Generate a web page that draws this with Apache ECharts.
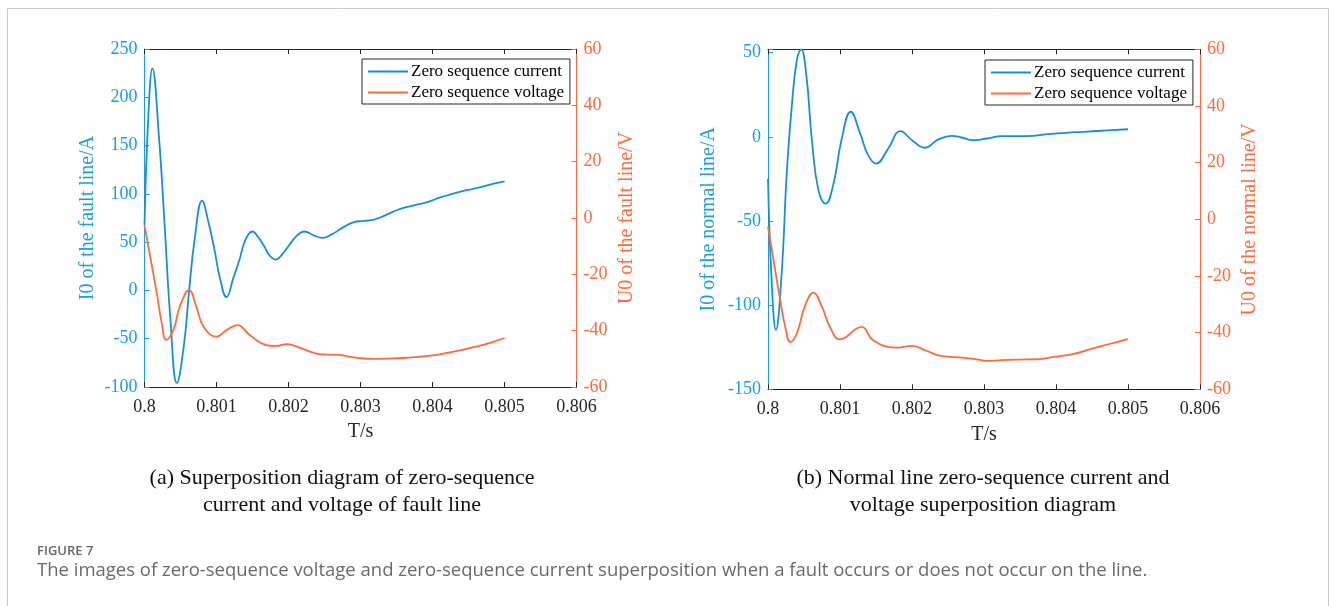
<!DOCTYPE html>
<html>
<head>
<meta charset="utf-8">
<script src="https://cdn.jsdelivr.net/npm/echarts@6/dist/echarts.min.js"></script>
<style>
html,body{margin:0;padding:0;background:#fff;}
#c{width:1330px;height:606px;}
</style>
</head>
<body>
<div id="c"></div>
<script>
// ---- (a) fault line ----
const tFaultI = [0.8, 0.80005, 0.80011, 0.8002, 0.80028, 0.80036, 0.80045, 0.80055, 0.80062, 0.8007, 0.8008, 0.80089, 0.80097, 0.80105, 0.80114, 0.80123, 0.80132, 0.8014, 0.8015, 0.80158, 0.80166, 0.80174, 0.80182, 0.80192, 0.80202, 0.80212, 0.80222, 0.80235, 0.80247, 0.8026, 0.80275, 0.8029, 0.80305, 0.8032, 0.80335, 0.8035, 0.80365, 0.8038, 0.80395, 0.8041, 0.80425, 0.8044, 0.80455, 0.8047, 0.80485, 0.805];
const iFault = [68, 175, 230, 160, 67, -30, -96, -55, 0, 55, 93, 70, 43, 12, -7, 12, 32, 52, 61, 55, 46, 36, 32, 38, 48, 57, 61, 57, 54.5, 58, 65, 70.5, 72, 73.5, 78, 83, 86.5, 89, 92, 96, 99.5, 102.5, 105, 107.5, 110.5, 113];
const tFaultU = [0.8, 0.80007, 0.80017, 0.80024, 0.8003, 0.8004, 0.80049, 0.80062, 0.80072, 0.80082, 0.801, 0.80114, 0.80129, 0.80146, 0.80169, 0.80183, 0.80197, 0.8021, 0.80225, 0.8024, 0.80255, 0.8027, 0.80285, 0.803, 0.8032, 0.8034, 0.8036, 0.8038, 0.804, 0.8042, 0.8044, 0.8046, 0.8048, 0.805];
const uFault = [-2.6, -12.5, -26.7, -37.4, -43.3, -39.8, -31.5, -25.6, -31.5, -38.6, -42.1, -39.8, -38, -41.5, -45.1, -45.4, -44.8, -45.5, -47, -48.2, -48.5, -48.6, -49.2, -49.8, -50, -49.9, -49.7, -49.3, -48.8, -47.9, -46.9, -45.7, -44.3, -42.6];

// ---- (b) normal line ----
const tNormI = [0.8, 0.80005, 0.80011, 0.80019, 0.80026, 0.80033, 0.8004, 0.80046, 0.80053, 0.80061, 0.8007, 0.8008, 0.80091, 0.80102, 0.80115, 0.80128, 0.80139, 0.8015, 0.80167, 0.80184, 0.802, 0.80218, 0.80235, 0.80255, 0.80269, 0.80284, 0.80304, 0.80324, 0.80349, 0.80369, 0.80389, 0.80414, 0.80438, 0.80463, 0.805];
const iNorm = [-25, -85, -114.7, -81, -21.8, 17.9, 45.6, 52, 37.7, -2, -31.7, -39.7, -27.8, -2, 14.9, 2, -10.9, -15.9, -7, 3.4, -2, -6.5, -2, 0.6, -0.4, -2, -1, 0.4, 0.4, 0.6, 1.6, 2.4, 3, 3.6, 4.5];
const tNormU = [0.8, 0.80007, 0.80017, 0.80024, 0.80031, 0.8004, 0.80051, 0.80063, 0.80075, 0.80086, 0.801, 0.8013, 0.80146, 0.80177, 0.802, 0.8022, 0.8024, 0.8027, 0.8029, 0.80304, 0.80324, 0.80349, 0.80374, 0.80399, 0.80423, 0.80448, 0.80473, 0.805];
const uNorm = [-2.7, -13.3, -28.6, -38, -43.3, -40.3, -30.9, -25.9, -30.9, -38, -42.4, -38, -42.7, -45.3, -44.7, -46.4, -48.2, -48.8, -49.4, -50, -49.7, -49.5, -49.4, -48.5, -47.6, -45.8, -44.1, -42.3];

const xTicks = [0.8, 0.801, 0.802, 0.803, 0.804, 0.805, 0.806];
const seriesNames = ['Zero sequence current', 'Zero sequence voltage'];
const yTitles = ['I0 of the fault line/A', 'U0 of the fault line/V', 'I0 of the normal line/A', 'U0 of the normal line/V'];

const BLUE_LINE = '#1591d2';
const BLUE_AX = '#17a0dd';
const ORANGE = '#ff6a3a';
const DARK = '#262626';
const SERIF = '"Liberation Serif", "Times New Roman", serif';

function zip(a, b) { return a.map((v, i) => [v, b[i]]); }

function xAxisPair(gi) {
  return [
    {
      type: 'value', gridIndex: gi, min: xTicks[0], max: xTicks[xTicks.length - 1], interval: 0.001, position: 'bottom',
      axisLine: { onZero: false, lineStyle: { color: DARK, width: 1 } },
      axisTick: { inside: true, length: 5, lineStyle: { color: DARK } },
      axisLabel: { color: DARK, fontSize: 18, fontFamily: SERIF, margin: 11,
        formatter: v => String(parseFloat(v.toFixed(4))) },
      splitLine: { show: false },
      name: 'T/s', nameLocation: 'middle', nameGap: 35,
      nameTextStyle: { color: DARK, fontSize: 20, fontFamily: SERIF }
    },
    {
      type: 'value', gridIndex: gi, min: xTicks[0], max: xTicks[xTicks.length - 1], interval: 0.001, position: 'top',
      axisLine: { onZero: false, lineStyle: { color: DARK, width: 1 } },
      axisTick: { inside: true, length: 5, lineStyle: { color: DARK } },
      axisLabel: { show: false }, splitLine: { show: false }
    }
  ];
}

function yAxis(gi, pos, min, max, interval, color, title, gap) {
  return {
    type: 'value', gridIndex: gi, position: pos, min: min, max: max, interval: interval,
    axisLine: { show: true, onZero: false, lineStyle: { color: color, width: 1 } },
    axisTick: { show: true, inside: true, length: 5, lineStyle: { color: color } },
    axisLabel: { color: color, fontSize: 18, fontFamily: SERIF, margin: 7,
      formatter: v => (Math.abs(v % interval) < 1e-9 ? String(v) : '') },
    splitLine: { show: false },
    name: title, nameLocation: 'middle', nameGap: gap, nameRotate: 90,
    nameTextStyle: { color: color, fontSize: 20, fontFamily: SERIF }
  };
}

function legend(left, top) {
  return {
    orient: 'vertical', left: left, top: top,
    data: seriesNames,
    itemWidth: 40, itemHeight: 2, itemGap: 4,
    padding: [4, 6, 3, 5],
    borderColor: DARK, borderWidth: 1, backgroundColor: '#fff',
    selectedMode: false,
    textStyle: { color: '#000', fontSize: 17, fontFamily: SERIF, padding: [0, 0, 0, -2] }
  };
}

function lineSeries(name, xi, yi, data, color) {
  return {
    type: 'line', name: name, xAxisIndex: xi, yAxisIndex: yi, data: data,
    symbol: 'none', smooth: 0.45, lineStyle: { color: color, width: 1.8 },
    itemStyle: { color: color }, animation: false, z: 3
  };
}

const chart = echarts.init(document.getElementById('c'), null, { renderer: 'canvas' });
chart.setOption({
  animation: false,
  backgroundColor: '#fff',
  grid: [
    { left: 144.5, top: 49, width: 432, height: 338 },
    { left: 768, top: 49.3, width: 432, height: 340 }
  ],
  xAxis: [].concat(xAxisPair(0), xAxisPair(1)),
  yAxis: [
    yAxis(0, 'left', -100, 250, 50, BLUE_AX, yTitles[0], 47),
    yAxis(0, 'right', -60, 60, 20, ORANGE, yTitles[1], 40),
    yAxis(1, 'left', -150, 52, 50, BLUE_AX, yTitles[2], 49),
    yAxis(1, 'right', -60, 60, 20, ORANGE, yTitles[3], 40)
  ],
  legend: [legend(362, 59), legend(985, 60)],
  series: [
    lineSeries(seriesNames[0], 0, 0, zip(tFaultI, iFault), BLUE_LINE),
    lineSeries(seriesNames[1], 0, 1, zip(tFaultU, uFault), ORANGE),
    lineSeries(seriesNames[0], 2, 2, zip(tNormI, iNorm), BLUE_LINE),
    lineSeries(seriesNames[1], 2, 3, zip(tNormU, uNorm), ORANGE)
  ],
  graphic: [
    { type: 'polyline', shape: { points: [[7.5, 606], [7.5, 8.5], [1328.5, 8.5], [1328.5, 606]] },
      style: { stroke: '#c9c9c9', lineWidth: 1, fill: null }, silent: true },
    { type: 'text', x: 342, y: 478, style: { text: '(a) Superposition diagram of zero-sequence', align: 'center', verticalAlign: 'middle', font: '22px ' + SERIF, fill: '#111' } },
    { type: 'text', x: 342, y: 505, style: { text: 'current and voltage of fault line', align: 'center', verticalAlign: 'middle', font: '22px ' + SERIF, fill: '#111' } },
    { type: 'text', x: 983, y: 478, style: { text: '(b) Normal line zero-sequence current and', align: 'center', verticalAlign: 'middle', font: '22px ' + SERIF, fill: '#111' } },
    { type: 'text', x: 983, y: 505, style: { text: 'voltage superposition diagram', align: 'center', verticalAlign: 'middle', font: '22px ' + SERIF, fill: '#111' } },
    { type: 'text', x: 37, y: 551, style: { text: 'FIGURE 7', align: 'left', verticalAlign: 'middle', font: '600 13px "Open Sans", sans-serif', fill: '#666' } },
    { type: 'text', x: 37, y: 571, style: { text: 'The images of zero-sequence voltage and zero-sequence current superposition when a fault occurs or does not occur on the line.', align: 'left', verticalAlign: 'middle', font: '18.5px "Open Sans", sans-serif', fill: '#6a6a6a' } }
  ]
});
</script>
</body>
</html>
